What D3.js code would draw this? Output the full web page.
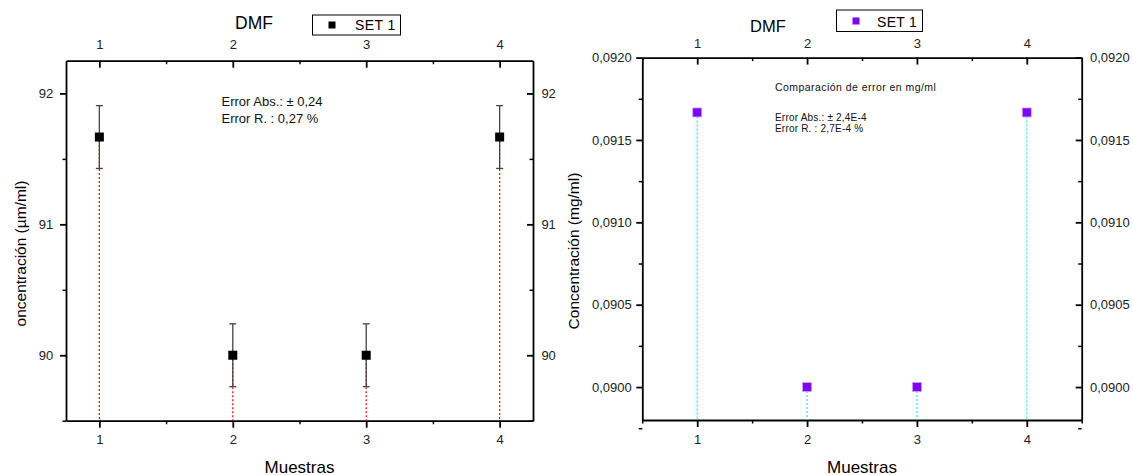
<!DOCTYPE html>
<html>
<head>
<meta charset="utf-8">
<script src="https://cdn.jsdelivr.net/npm/d3@7"></script>
<style>
  html, body { margin: 0; padding: 0; background: #fff; }
  svg { display: block; font-family: "Liberation Sans", Arial, sans-serif; }
  .tick text { fill: #222; }
</style>
</head>
<body>
<svg id="chart" width="1133" height="475"></svg>
<script>
// Samples (Muestras) measured in DMF
const samples = [1, 2, 3, 4];
const sampleTicks = [1, 2, 3, 4];
const halfTicks = [1.5, 2.5, 3.5];
const halfTicksWide = [0.5, 1.5, 2.5, 3.5, 4.5];

// Concentration in µm/ml with its absolute error
const concUm = [91.667, 90.0, 90.0, 91.667];
const errAbsUm = 0.24;
const umTicks = [90, 91, 92];
const umMinor = [89.5, 90.5, 91.5];

// Concentration converted to mg/ml
const concMg = [0.091667, 0.0900, 0.0900, 0.091667];
const mgTicks = [0.0900, 0.0905, 0.0910, 0.0915, 0.0920];
const mgMinor = [0.08975, 0.09025, 0.09075, 0.09125, 0.09175];

const seriesName = "SET 1";
const solvent = "DMF";

const svg = d3.select("#chart");

const fmtMg = v => d3.format(".4f")(v).replace(".", ",");

function styleAxis(g) {
  g.select(".domain").attr("stroke", "#000").attr("stroke-width", 1.8);
  g.selectAll(".tick line").attr("stroke", "#000").attr("stroke-width", 1.8);
  g.selectAll(".tick text").attr("font-size", 13);
}
function minorAxis(g) {
  g.select(".domain").remove();
  g.selectAll(".tick line").attr("stroke", "#000").attr("stroke-width", 1.5);
}

// ---------- Left panel: µm/ml with error bars ----------
{
  const L = 66, R = 533, T = 60.7, B = 420.7;
  const x = d3.scaleLinear().domain([0.75, 4.25]).range([L, R]);
  const y = d3.scaleLinear().domain([89.5, 92.25]).range([B, T]);
  const g = svg.append("g");

  // axes: bottom/left outward ticks, top/right inward ticks
  g.append("g").attr("transform", `translate(0,${B})`)
    .call(d3.axisBottom(x).tickValues(sampleTicks).tickFormat(d3.format("d")).tickSizeInner(7).tickSizeOuter(0).tickPadding(7.4))
    .call(styleAxis);
  g.append("g").attr("transform", `translate(0,${B})`)
    .call(d3.axisBottom(x).tickValues(halfTicks).tickFormat("").tickSize(3.5)).call(minorAxis);

  g.append("g").attr("transform", `translate(0,${T})`)
    .call(d3.axisTop(x).tickValues(sampleTicks).tickFormat(d3.format("d")).tickSizeInner(-7).tickSizeOuter(0).tickPadding(11.5))
    .call(styleAxis);
  g.append("g").attr("transform", `translate(0,${T})`)
    .call(d3.axisTop(x).tickValues(halfTicks).tickFormat("").tickSize(-3.5)).call(minorAxis);

  g.append("g").attr("transform", `translate(${L},0)`)
    .call(d3.axisLeft(y).tickValues(umTicks).tickFormat(d3.format("d")).tickSizeInner(6).tickSizeOuter(0).tickPadding(6.7))
    .call(styleAxis);
  g.append("g").attr("transform", `translate(${L},0)`)
    .call(d3.axisLeft(y).tickValues(umMinor).tickFormat("").tickSize(3.5)).call(minorAxis);

  g.append("g").attr("transform", `translate(${R},0)`)
    .call(d3.axisRight(y).tickValues(umTicks).tickFormat(d3.format("d")).tickSizeInner(-6).tickSizeOuter(0).tickPadding(8.4))
    .call(styleAxis);
  g.append("g").attr("transform", `translate(${R},0)`)
    .call(d3.axisRight(y).tickValues(umMinor).tickFormat("").tickSize(-3.5)).call(minorAxis);

  const data = samples.map((s, i) => ({ s, v: concUm[i], e: errAbsUm }));

  // drop lines to the bottom axis
  g.selectAll("line.drop").data(data).join("line")
    .attr("x1", d => x(d.s)).attr("x2", d => x(d.s))
    .attr("y1", d => y(d.v)).attr("y2", B)
    .attr("stroke", "#ff0000").attr("stroke-width", 1.2).attr("stroke-dasharray", "2,2");

  // error bars
  const eb = g.selectAll("g.err").data(data).join("g");
  eb.append("line")
    .attr("x1", d => x(d.s)).attr("x2", d => x(d.s))
    .attr("y1", d => y(d.v + d.e)).attr("y2", d => y(d.v - d.e))
    .attr("stroke", "#444").attr("stroke-width", 1.3);
  eb.append("line")
    .attr("x1", d => x(d.s) - 3.5).attr("x2", d => x(d.s) + 3.5)
    .attr("y1", d => y(d.v + d.e)).attr("y2", d => y(d.v + d.e))
    .attr("stroke", "#444").attr("stroke-width", 1.3);
  eb.append("line")
    .attr("x1", d => x(d.s) - 3.5).attr("x2", d => x(d.s) + 3.5)
    .attr("y1", d => y(d.v - d.e)).attr("y2", d => y(d.v - d.e))
    .attr("stroke", "#444").attr("stroke-width", 1.3);

  // markers
  g.selectAll("rect.pt").data(data).join("rect")
    .attr("x", d => x(d.s) - 4.5).attr("y", d => y(d.v) - 4.5)
    .attr("width", 9).attr("height", 9).attr("fill", "#000");

  // titles
  g.append("text").attr("x", 235).attr("y", 29).attr("font-size", 17.5).text(solvent);
  g.append("text").attr("x", (L + R) / 2).attr("y", 472.5).attr("text-anchor", "middle")
    .attr("font-size", 17).text("Muestras");
  g.append("text").attr("transform", "translate(26,253.5) rotate(-90)")
    .attr("text-anchor", "middle").attr("font-size", 15.5).text("oncentración (µm/ml)");

  // legend
  g.append("rect").attr("x", 312.5).attr("y", 15).attr("width", 88).attr("height", 20)
    .attr("fill", "#fff").attr("stroke", "#000").attr("stroke-width", 1);
  g.append("rect").attr("x", 328.5).attr("y", 21.5).attr("width", 7).attr("height", 7).attr("fill", "#000");
  g.append("text").attr("x", 355).attr("y", 30).attr("font-size", 14).attr("letter-spacing", 0.4).text(seriesName);

  // error summary
  const note = g.append("text").attr("font-size", 13).attr("fill", "#111");
  note.append("tspan").attr("x", 221.5).attr("y", 106).text("Error Abs.: ± 0,24");
  note.append("tspan").attr("x", 221.5).attr("y", 123.3).text("Error R. : 0,27 %");
}

// ---------- Right panel: mg/ml ----------
{
  const L = 642.3, R = 1081.7, T = 57.6, B = 420;
  const x = d3.scaleLinear().domain([0.5, 4.5]).range([L, R]);
  const y = d3.scaleLinear().domain([0.0898, 0.0920]).range([B, T]);
  const g = svg.append("g");

  g.append("g").attr("transform", `translate(0,${B})`)
    .call(d3.axisBottom(x).tickValues(sampleTicks).tickFormat(d3.format("d")).tickSizeInner(7).tickSizeOuter(0).tickPadding(7.8))
    .call(styleAxis);
  g.append("g").attr("transform", `translate(0,${B})`)
    .call(d3.axisBottom(x).tickValues(halfTicksWide).tickFormat("").tickSize(3.5)).call(minorAxis);

  g.append("g").attr("transform", `translate(0,${T})`)
    .call(d3.axisTop(x).tickValues(sampleTicks).tickFormat(d3.format("d")).tickSizeInner(-7).tickSizeOuter(0).tickPadding(10))
    .call(styleAxis);
  g.append("g").attr("transform", `translate(0,${T})`)
    .call(d3.axisTop(x).tickValues(halfTicksWide).tickFormat("").tickSize(-3.5)).call(minorAxis);

  g.append("g").attr("transform", `translate(${L},0)`)
    .call(d3.axisLeft(y).tickValues(mgTicks).tickFormat(fmtMg).tickSizeInner(6).tickSizeOuter(0).tickPadding(4.6))
    .call(styleAxis);
  g.append("g").attr("transform", `translate(${L},0)`)
    .call(d3.axisLeft(y).tickValues(mgMinor).tickFormat("").tickSize(3.5)).call(minorAxis);

  g.append("g").attr("transform", `translate(${R},0)`)
    .call(d3.axisRight(y).tickValues(mgTicks).tickFormat(fmtMg).tickSizeInner(-6).tickSizeOuter(0).tickPadding(8.3))
    .call(styleAxis);
  g.append("g").attr("transform", `translate(${R},0)`)
    .call(d3.axisRight(y).tickValues(mgMinor).tickFormat("").tickSize(-3.5)).call(minorAxis);

  const data = samples.map((s, i) => ({ s, v: concMg[i] }));

  g.selectAll("line.drop").data(data).join("line")
    .attr("x1", d => x(d.s)).attr("x2", d => x(d.s))
    .attr("y1", d => y(d.v)).attr("y2", B)
    .attr("stroke", "#1ee8f5").attr("stroke-width", 1.2).attr("stroke-dasharray", "2,2");

  g.selectAll("rect.pt").data(data).join("rect")
    .attr("x", d => x(d.s) - 4.5).attr("y", d => y(d.v) - 4.5)
    .attr("width", 9).attr("height", 9)
    .attr("fill", "#7f00ff").attr("stroke", "#c8a8ff").attr("stroke-width", 0.8);

  g.append("text").attr("x", 750).attr("y", 31.7).attr("font-size", 16.5).text(solvent);
  g.append("text").attr("x", (L + R) / 2).attr("y", 472.5).attr("text-anchor", "middle")
    .attr("font-size", 17).text("Muestras");
  g.append("text").attr("transform", "translate(578.5,251) rotate(-90)")
    .attr("text-anchor", "middle").attr("font-size", 15.5).text("Concentración (mg/ml)");

  g.append("rect").attr("x", 836.5).attr("y", 10).attr("width", 86).attr("height", 21.5)
    .attr("fill", "#fff").attr("stroke", "#000").attr("stroke-width", 1);
  g.append("rect").attr("x", 852.5).attr("y", 17.5).attr("width", 7).attr("height", 7).attr("fill", "#7f00ff");
  g.append("text").attr("x", 877).attr("y", 26.7).attr("font-size", 14).attr("letter-spacing", 0.3).text(seriesName);

  g.append("text").attr("x", 775).attr("y", 91).attr("font-size", 10.5).attr("letter-spacing", 0.45)
    .attr("fill", "#111").text("Comparación de error en mg/ml");
  const note = g.append("text").attr("font-size", 10).attr("fill", "#111").attr("letter-spacing", 0.2);
  note.append("tspan").attr("x", 775).attr("y", 121).text("Error Abs.: ± 2,4E-4");
  note.append("tspan").attr("x", 775).attr("y", 132.3).text("Error R. : 2,7E-4 %");
}
</script>
</body>
</html>
